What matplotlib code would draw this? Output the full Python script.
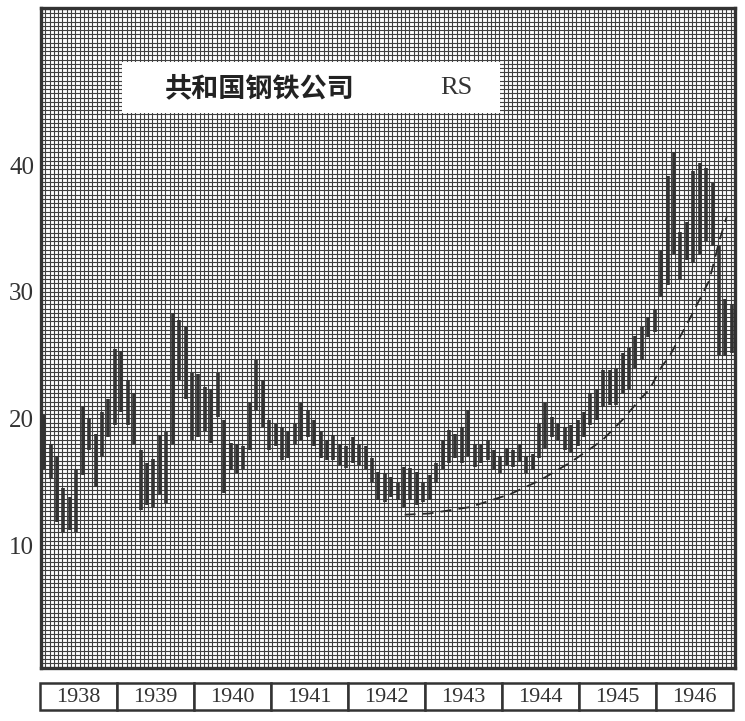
import numpy as np
import matplotlib.pyplot as plt
from matplotlib.ticker import MultipleLocator
from matplotlib.patches import Rectangle

plt.rcParams['font.family'] = ['Liberation Serif', 'DejaVu Serif']

years = [1938, 1939, 1940, 1941, 1942, 1943, 1944, 1945, 1946]

# monthly high / low, one row per year
high = [
    20.3, 18.0, 17.0, 14.5, 13.8, 16.0, 21.0, 20.0, 18.8, 20.5, 21.5, 25.5,  # 1938
    25.3, 23.0, 22.0, 17.5, 16.5, 16.8, 18.7, 18.9, 28.3, 27.8, 27.2, 23.6,  # 1939
    23.5, 22.5, 22.3, 23.6, 19.9, 18.1, 18.0, 17.8, 21.2, 24.6, 23.0, 19.9,  # 1940
    19.6, 19.3, 19.0, 19.6, 21.2, 20.7, 19.9, 19.0, 18.3, 18.7, 18.0, 17.8,  # 1941
    18.5, 18.0, 17.8, 16.9, 15.8, 15.7, 15.4, 14.9, 16.2, 16.1, 15.8, 15.0,  # 1942
    15.5, 16.5, 18.3, 19.1, 18.8, 19.3, 20.7, 18.0, 18.0, 18.3, 17.5, 17.0,  # 1943
    17.7, 17.5, 18.0, 17.0, 17.2, 19.6, 21.2, 20.1, 19.6, 19.3, 19.5, 19.9,  # 1944
    20.5, 22.0, 22.3, 23.8, 23.8, 24.0, 25.2, 25.6, 26.5, 27.2, 28.0, 28.6,  # 1945
    33.3, 39.1, 41.0, 34.7, 35.5, 39.5, 40.2, 39.8, 38.6, 33.6, 29.4, 29.0,  # 1946
]
low = [
    16.0, 15.2, 11.8, 11.0, 11.2, 11.0, 15.5, 17.5, 14.6, 17.0, 18.5, 19.5,
    20.5, 19.5, 18.0, 12.8, 13.2, 13.0, 14.0, 13.3, 18.0, 23.0, 21.5, 18.3,
    18.5, 19.0, 18.1, 20.1, 14.1, 15.9, 15.7, 16.0, 17.5, 20.7, 19.3, 17.5,
    17.8, 16.7, 16.9, 18.0, 18.3, 18.5, 17.8, 16.9, 16.7, 16.7, 16.3, 16.1,
    16.5, 16.3, 16.0, 15.0, 13.6, 13.4, 13.8, 13.6, 13.0, 13.6, 13.2, 13.4,
    13.6, 14.9, 16.0, 16.5, 16.9, 16.5, 17.0, 16.2, 16.5, 16.7, 15.9, 15.7,
    16.3, 16.2, 16.6, 15.7, 15.9, 16.9, 17.7, 18.5, 18.3, 17.5, 17.3, 17.8,
    18.5, 19.5, 19.9, 20.9, 21.1, 21.1, 22.0, 22.3, 24.0, 24.6, 26.4, 26.8,
    29.6, 30.5, 33.0, 31.0, 32.5, 32.3, 33.0, 34.0, 33.6, 25.0, 24.9, 25.2,
]

# dashed support curve (months since Jan 1938, price)
trend_x = [56.6, 60.5, 66.7, 72.9, 77.6, 82.3, 84.9, 87.4, 90.5, 93.2,
           94.7, 96.6, 97.8, 99.4, 101.4, 102.5, 104.0, 105.6, 106.7]
trend_y = [12.4, 12.5, 13.0, 14.0, 15.1, 16.5, 17.4, 18.3, 19.9, 21.5,
           22.3, 24.1, 24.9, 26.4, 28.3, 29.4, 30.9, 34.1, 35.9]

yticks = [10, 20, 30, 40]

fig = plt.figure(figsize=(7.45, 7.21), dpi=100)
ax = fig.add_axes([41 / 745, 1 - 668 / 721, 694 / 745, 660 / 721])

months = np.arange(len(high)) + 0.5
ax.vlines(months, low, high, colors='#333333', linewidth=2.6, zorder=3)
ax.plot(trend_x, trend_y, color='#2a2a2a', lw=1.3, ls=(0, (6, 4)), zorder=3)

ax.set_xlim(0, 108)
ax.set_ylim(0.3, 52.4)

# graph paper
ax.set_xticks([])
ax.xaxis.set_minor_locator(MultipleLocator(2 / 3))
ax.set_yticks(yticks)
ax.set_yticklabels([str(v) for v in yticks], fontsize=18, color='#333333')
ax.yaxis.set_minor_locator(MultipleLocator(1 / 3))
ax.tick_params(which='both', length=0, pad=5)
ax.grid(which='both', color='#404040', linewidth=0.8)
ax.set_axisbelow(True)
for s in ax.spines.values():
    s.set_linewidth(2.4)
    s.set_color('#333333')

# title box
ax.add_patch(Rectangle((12.6, 44.1), 58.8, 4.0, facecolor='white',
                       edgecolor='none', zorder=4))
ax.text(19.3, 46.1, '共和国钢铁公司', family=['Noto Sans CJK SC'],
        fontsize=19.5, fontweight='bold', color='#222222',
        ha='left', va='center', zorder=5)
ax.text(64.7, 46.1, 'RS', fontsize=19, color='#333333',
        ha='center', va='center', zorder=5)

# year boxes
yax = fig.add_axes([40 / 745, 1 - 710 / 721, 693 / 745, 27 / 721])
yax.set_xlim(0, len(years))
yax.set_ylim(0, 1)
yax.axis('off')
for i, yr in enumerate(years):
    yax.add_patch(Rectangle((i, 0), 1, 1, facecolor='white',
                            edgecolor='#333333', lw=1.8, clip_on=False))
    yax.text(i + 0.5, 0.45, str(yr), fontsize=16, color='#333333',
             ha='center', va='center')

plt.savefig('out.png', dpi=100)
